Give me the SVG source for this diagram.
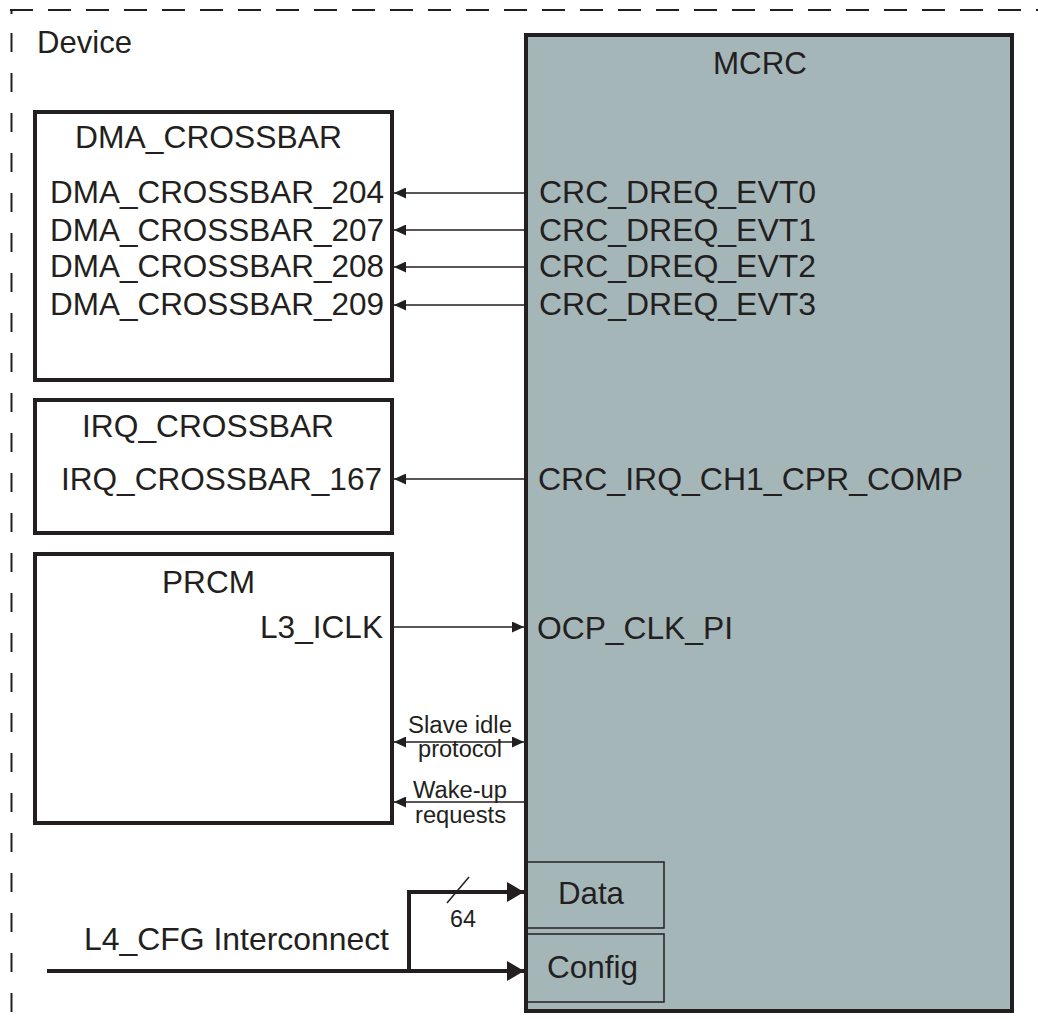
<svg xmlns="http://www.w3.org/2000/svg" width="1038" height="1030" viewBox="0 0 1038 1030">
<defs>
<style>
text{font-family:"Liberation Sans",Arial,Helvetica,sans-serif;fill:#231f20}
.lg{font-size:31.5px}
.sm{font-size:23px}
.box{fill:#ffffff;stroke:#231f20;stroke-width:4}
.sub{fill:none;stroke:#231f20;stroke-width:1.5}
.thin{stroke:#231f20;stroke-width:1.5;fill:none}
.thick{stroke:#231f20;stroke-width:4;fill:none}
.dash{stroke:#231f20;stroke-width:2;fill:none}
</style>
<marker id="ah" markerUnits="userSpaceOnUse" markerWidth="13" markerHeight="11" refX="12" refY="5.5" orient="auto-start-reverse">
<path d="M0,0 L12,5.5 L0,11 Z" fill="#231f20"/>
</marker>
<marker id="ahb" markerUnits="userSpaceOnUse" markerWidth="18" markerHeight="20" refX="17" refY="10" orient="auto">
<path d="M0,0 L17,10 L0,20 Z" fill="#231f20"/>
</marker>
</defs>
<rect width="1038" height="1030" fill="#ffffff"/>
<g id="device">
<path class="dash" d="M10,10 H1038" stroke-dasharray="23 15"/>
<path class="dash" d="M11.5,10 V14"/>
<path class="dash" d="M11.5,33 V1030" stroke-dasharray="19 21"/>
<text class="lg" x="37" y="53" textLength="95" lengthAdjust="spacingAndGlyphs">Device</text>
</g>
<g id="dma_crossbar">
<rect class="box" x="35" y="112" width="357" height="268"/>
<text class="lg" x="75" y="148" textLength="267" lengthAdjust="spacingAndGlyphs">DMA_CROSSBAR</text>
<text class="lg" x="50" y="203" textLength="334" lengthAdjust="spacingAndGlyphs">DMA_CROSSBAR_204</text>
<text class="lg" x="50" y="241" textLength="334" lengthAdjust="spacingAndGlyphs">DMA_CROSSBAR_207</text>
<text class="lg" x="50" y="277" textLength="334" lengthAdjust="spacingAndGlyphs">DMA_CROSSBAR_208</text>
<text class="lg" x="50" y="315" textLength="334" lengthAdjust="spacingAndGlyphs">DMA_CROSSBAR_209</text>
</g>
<g id="irq_crossbar">
<rect class="box" x="35" y="400" width="357" height="133"/>
<text class="lg" x="82" y="437" textLength="252" lengthAdjust="spacingAndGlyphs">IRQ_CROSSBAR</text>
<text class="lg" x="61" y="490" textLength="321" lengthAdjust="spacingAndGlyphs">IRQ_CROSSBAR_167</text>
</g>
<g id="prcm">
<rect class="box" x="35" y="554" width="357" height="269"/>
<text class="lg" x="162" y="593" textLength="93" lengthAdjust="spacingAndGlyphs">PRCM</text>
<text class="lg" x="260" y="638" textLength="123" lengthAdjust="spacingAndGlyphs">L3_ICLK</text>
</g>
<g id="mcrc">
<rect x="526" y="35" width="486" height="976" fill="#a5b6b9" stroke="#231f20" stroke-width="4"/>
<text class="lg" x="713" y="74" textLength="94" lengthAdjust="spacingAndGlyphs">MCRC</text>
<text class="lg" x="539" y="203" textLength="277" lengthAdjust="spacingAndGlyphs">CRC_DREQ_EVT0</text>
<text class="lg" x="539" y="241" textLength="277" lengthAdjust="spacingAndGlyphs">CRC_DREQ_EVT1</text>
<text class="lg" x="539" y="277" textLength="277" lengthAdjust="spacingAndGlyphs">CRC_DREQ_EVT2</text>
<text class="lg" x="539" y="315" textLength="277" lengthAdjust="spacingAndGlyphs">CRC_DREQ_EVT3</text>
<text class="lg" x="538" y="490" textLength="425" lengthAdjust="spacingAndGlyphs">CRC_IRQ_CH1_CPR_COMP</text>
<text class="lg" x="537" y="639" textLength="196" lengthAdjust="spacingAndGlyphs">OCP_CLK_PI</text>
</g>
<g id="data">
<rect class="sub" x="527" y="862" width="137" height="66"/>
<text class="lg" x="558" y="904" textLength="66" lengthAdjust="spacingAndGlyphs">Data</text>
</g>
<g id="config">
<rect class="sub" x="527" y="934" width="137" height="68"/>
<text class="lg" x="547" y="978" textLength="91" lengthAdjust="spacingAndGlyphs">Config</text>
</g>
<g id="connectors">
<line class="thin" x1="524" y1="193" x2="394" y2="193" marker-end="url(#ah)"/>
<line class="thin" x1="524" y1="230" x2="394" y2="230" marker-end="url(#ah)"/>
<line class="thin" x1="524" y1="267" x2="394" y2="267" marker-end="url(#ah)"/>
<line class="thin" x1="524" y1="305" x2="394" y2="305" marker-end="url(#ah)"/>
<line class="thin" x1="524" y1="479" x2="394" y2="479" marker-end="url(#ah)"/>
<line class="thin" x1="394" y1="627" x2="524" y2="627" marker-end="url(#ah)"/>
<line class="thin" x1="394" y1="742" x2="524" y2="742" marker-start="url(#ah)" marker-end="url(#ah)"/>
<line class="thin" x1="524" y1="802" x2="394" y2="802" marker-end="url(#ah)"/>
<text class="sm" x="408" y="733" textLength="104" lengthAdjust="spacingAndGlyphs">Slave idle</text>
<text class="sm" x="418" y="757" textLength="84" lengthAdjust="spacingAndGlyphs">protocol</text>
<text class="sm" x="413" y="798" textLength="94" lengthAdjust="spacingAndGlyphs">Wake-up</text>
<text class="sm" x="415" y="823" textLength="91" lengthAdjust="spacingAndGlyphs">requests</text>
<path class="thick" d="M47,971 H524" marker-end="url(#ahb)"/>
<path class="thick" d="M409,971 V892 H524" marker-end="url(#ahb)"/>
<line class="thin" x1="447" y1="903" x2="469" y2="877"/>
<text class="sm" x="450" y="927" textLength="26" lengthAdjust="spacingAndGlyphs">64</text>
<text class="lg" x="84" y="950" textLength="305" lengthAdjust="spacingAndGlyphs">L4_CFG Interconnect</text>
</g>
</svg>
